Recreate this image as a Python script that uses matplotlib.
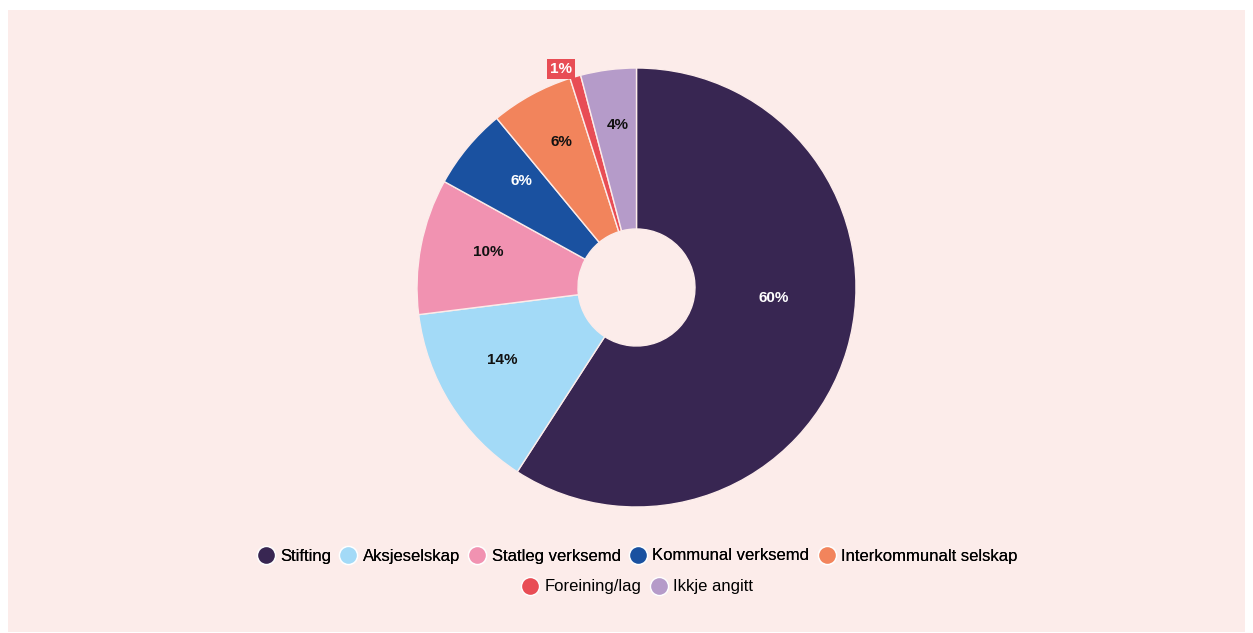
import numpy as np
import matplotlib.pyplot as plt
from matplotlib.lines import Line2D
from matplotlib.patches import Rectangle

plt.rcParams['font.family'] = ['Liberation Sans', 'DejaVu Sans']

# data
categories = ['Stifting', 'Aksjeselskap', 'Statleg verksemd', 'Kommunal verksemd',
              'Interkommunalt selskap', 'Foreining/lag', 'Ikkje angitt']
values = [59.2, 13.9, 10.0, 6.0, 6.1, 0.8, 4.1]
pct_labels = ['60%', '14%', '10%', '6%', '6%', '1%', '4%']
colors = ['#382652', '#a3daf7', '#f192b1', '#1a51a0', '#f2845c', '#e84d55', '#b59bc9']
text_colors = ['white', '#111111', '#111111', 'white', '#111111', 'white', '#111111']
# label placement: radius (fraction of outer radius) and clockwise shift from mid-angle
label_r = [0.626, 0.696, 0.696, 0.715, 0.747, 1.053, 0.746]
label_shift = [-12.1, 3.6, 2.4, 3.0, 1.2, -2.8, 0.7]

bg = '#fcecea'

fig = plt.figure(figsize=(12.53, 6.33), dpi=100)
fig.patch.set_facecolor('white')
fig.patches.append(Rectangle((8 / 1253, 1 / 633), 1237 / 1253, 622 / 633,
                             transform=fig.transFigure, facecolor=bg,
                             edgecolor='none', zorder=-10))

# pie axes: 500x500 px box, centre at (636.5, 287.5) px from top-left
size = 500
ax = fig.add_axes([(636.5 - size / 2) / 1253, (633 - 287.5 - size / 2) / 633,
                   size / 1253, size / 633])
ax.set_facecolor('none')
R = 219.5
lim = size / 2 / R
width = 1 - 58.5 / R

wedges, _ = ax.pie(values, colors=colors, startangle=90, counterclock=False,
                   radius=1, wedgeprops=dict(width=width, edgecolor=bg, linewidth=1))
ax.set_xlim(-lim, lim)
ax.set_ylim(-lim, lim)
ax.set_aspect('equal')
ax.axis('off')

for w, lab, tc, r, sh in zip(wedges, pct_labels, text_colors, label_r, label_shift):
    a = np.deg2rad((w.theta1 + w.theta2) / 2 - sh)
    x, y = r * np.cos(a), r * np.sin(a)
    if r > 1:
        ax.text(x, y, lab, ha='center', va='center', color='white',
                fontsize=11, fontweight='bold',
                bbox=dict(boxstyle='square,pad=0.2', facecolor=w.get_facecolor(),
                          edgecolor='none'))
    else:
        ax.text(x, y, lab, ha='center', va='center', color=tc,
                fontsize=11, fontweight='bold')

def handles(idx):
    return [Line2D([], [], marker='o', linestyle='none', markersize=13,
                   markerfacecolor=colors[i], markeredgecolor='white',
                   markeredgewidth=1) for i in idx]

row1 = [0, 1, 2, 3, 4]
row2 = [5, 6]
leg1 = fig.legend(handles(row1), [categories[i] for i in row1], loc='center',
                  bbox_to_anchor=(636.5 / 1253, 1 - 556 / 633), ncol=5, frameon=False,
                  fontsize=12, handletextpad=0.25, columnspacing=0.45, handlelength=1.2)
fig.legend(handles(row2), [categories[i] for i in row2], loc='center',
           bbox_to_anchor=(636.5 / 1253, 1 - 587 / 633), ncol=2, frameon=False,
           fontsize=12, handletextpad=0.25, columnspacing=0.45, handlelength=1.2)
fig.add_artist(leg1)

fig.savefig('out.png', dpi=100, facecolor=fig.get_facecolor())
